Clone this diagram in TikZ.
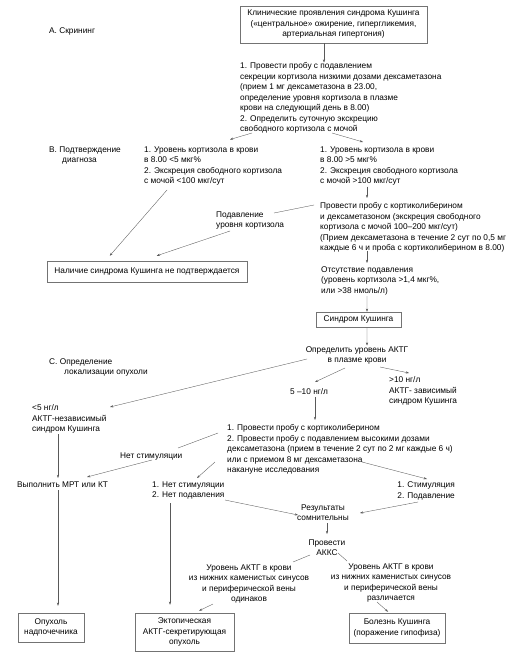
\documentclass[tikz,border=0pt]{standalone}
\usepackage{fontspec}
\setmainfont{Liberation Sans}
\usetikzlibrary{arrows.meta,calc}
\begin{document}
\begin{tikzpicture}[x=1bp,y=-1bp,
  fnt/.style={font=\fontsize{8.3bp}{10.5bp}\selectfont},
  txt/.style={fnt, inner sep=0pt, align=left, anchor=north west, text=black},
  ctxt/.style={fnt, inner sep=0pt, align=center, anchor=north, text=black},
  rtxt/.style={fnt, inner sep=0pt, align=right, anchor=north east, text=black},
  box/.style={fnt, draw=black!55, line width=0.5bp, inner sep=0pt, align=center, text=black},
  conn/.style={draw=black!65, line width=0.35bp},
  arr/.style={conn, -{Stealth[length=3.2bp,width=2.2bp]}}]
\fill[white] (0,0) rectangle (531,660);
\useasboundingbox (0,0) rectangle (531,660);

% section labels
\node[txt] (lblA) at (49,27.5) {A. Скрининг};
\node[txt] (lblB) at (49,146.5) {B. Подтверждение\\\hspace*{13bp}диагноза};
\node[txt] (lblC) at (49,358.5) {C. Определение\\\hspace*{15bp}локализации опухоли};

% nodes
\node[box, minimum width=187bp, minimum height=37bp] (top) at (333.5,24.5)
  {Клинические проявления синдрома Кушинга\\(«центральное» ожирение, гипергликемия,\\артериальная гипертония)};
\node[txt] (t1) at (240,62.5) {1. Провести пробу с подавлением\\секреции кортизола низкими дозами дексаметазона\\(прием 1 мг дексаметазона в 23.00,\\определение уровня кортизола в плазме\\крови на следующий день в 8.00)\\2. Определить суточную экскрецию\\свободного кортизола с мочой};
\node[txt] (bl) at (144,146.5) {1. Уровень кортизола в крови\\в 8.00 <5 мкг\%\\2. Экскреция свободного кортизола\\с мочой <100 мкг/сут};
\node[txt] (br) at (320,146.5) {1. Уровень кортизола в крови\\в 8.00 >5 мкг\%\\2. Экскреция свободного кортизола\\с мочой >100 мкг/сут};
\node[txt] (t2) at (320,202.5) {Провести пробу с кортиколиберином\\и дексаметазоном (экскреция свободного\\кортизола с мочой 100–200 мкг/сут)\\(Прием дексаметазона в течение 2 сут по 0,5 мг\\каждые 6 ч и проба с кортиколиберином в 8.00)};
\node[txt] (supp) at (216,211.5) {Подавление\\уровня кортизола};
\node[box, minimum width=200bp, minimum height=21bp] (nobox) at (147,271.5) {Наличие синдрома Кушинга не подтверждается};
\node[txt] (t3) at (321,266.5) {Отсутствие подавления\\(уровень кортизола >1,4 мкг\%,\\или >38 нмоль/л)};
\node[box, minimum width=85bp, minimum height=15bp] (cush) at (358.5,319.5) {Синдром Кушинга};
\node[ctxt] (t4) at (357,346.5) {Определить уровень АКТГ\\в плазме крови};
\node[txt] (r510) at (290,388.5) {5 –10 нг/л};
\node[txt] (rgt10) at (389,376.5) {>10 нг/л\\АКТГ- зависимый\\синдром Кушинга};
\node[txt] (lt5) at (32,404.5) {<5 нг/л\\АКТГ-независимый\\синдром Кушинга};
\node[txt] (t5) at (227,424.5) {1. Провести пробу с кортиколиберином\\2. Провести пробу с подавлением высокими дозами\\дексаметазона (прием в течение 2 сут по 2 мг каждые 6 ч)\\или с приемом 8 мг дексаметазона\\накануне исследования};
\node[txt] (nostim) at (120,452.5) {Нет стимуляции};
\node[txt] (mrt) at (17,481.5) {Выполнить МРТ или КТ};
\node[txt] (nn) at (152,481.5) {1. Нет стимуляции\\2. Нет подавления};
\node[rtxt] (sp) at (455,481.5) {1. Стимуляция\\2. Подавление};
\node[ctxt] (doubt) at (323,504.5) {Результаты\\сомнительны};
\node[ctxt] (akks) at (327,539.5) {Провести\\АККС};
\node[ctxt] (ll) at (249,564.5) {Уровень АКТГ в крови\\из нижних каменистых синусов\\и периферической вены\\одинаков};
\node[ctxt] (rl) at (391,563.5) {Уровень АКТГ в крови\\из нижних каменистых синусов\\и периферической вены\\различается};
\node[box, minimum width=66bp, minimum height=29bp] (b1) at (51,627.5) {Опухоль\\надпочечника};
\node[box, minimum width=99bp, minimum height=38bp] (b2) at (184.5,632) {Эктопическая\\АКТГ-секретирующая\\опухоль};
\node[box, minimum width=96bp, minimum height=30bp] (b3) at (397,628) {Болезнь Кушинга\\(поражение гипофиза)};

% connectors
\draw[arr] ($(top.south)+(-9.5,0)$) -- ($(t1.north west)+(84,0)$);
\draw[arr] ($(t1.north west)+(12,70.5)$) -- ($(bl.north west)+(86,-7)$);
\draw[arr] ($(t1.north west)+(92,70.5)$) -- ($(br.north west)+(43,-4.5)$);
\draw[arr] ($(br.north west)+(47,40)$) -- ($(t2.north west)+(47,-4.5)$);
\draw[arr] ($(bl.north west)+(23,43.5)$) -- ($(nobox.north west)+(63,-5)$);
\draw[conn] ($(t2.north west)+(-6,2.5)$) -- ($(supp.north west)+(58,1.5)$);
\draw[arr] ($(supp.north west)+(14,19.5)$) -- ($(nobox.north west)+(110,-5)$);
\draw[arr] ($(t2.north west)+(47,48.5)$) -- ($(t3.north west)+(46,-3.5)$);
\draw[arr] ($(t3.north west)+(46,29.5)$) -- ($(cush.north)+(8.5,0)$);
\draw[arr] ($(cush.south)+(8.5,0)$) -- ($(t4.north)+(10,-1)$);
\draw[arr] ($(t4.north)+(-50,12.5)$) -- ($(lt5.north west)+(78,2.5)$);
\draw[arr] ($(t4.north)+(-12,21.5)$) -- ($(r510.north west)+(25,-6.5)$);
\draw[arr] ($(t4.north)+(23,20.5)$) -- ($(rgt10.north west)+(20,-3.5)$);
\draw[arr] ($(r510.north west)+(25,8.5)$) -- ($(t5.north west)+(88,-4.5)$);
\draw[arr] ($(lt5.north west)+(26,29.5)$) -- ($(mrt.north west)+(41,-3.5)$);
\draw[conn] ($(t5.north west)+(-9,8.5)$) -- ($(nostim.north west)+(58,-4.5)$);
\draw[arr] ($(nostim.north west)+(32,7.5)$) -- ($(mrt.north west)+(70,-4.5)$);
\draw[arr] ($(t5.north west)+(-12,37.5)$) -- ($(nn.north west)+(45,-3.5)$);
\draw[arr] ($(t5.north west)+(135,37.5)$) -- ($(sp.north east)+(-28,-2.5)$);
\draw[arr] ($(nn.north west)+(73,18.5)$) -- ($(doubt.north)+(-25,10.5)$);
\draw[arr] ($(sp.north east)+(-37,20.5)$) -- ($(doubt.north)+(37,8.5)$);
\draw[arr] ($(nn.north west)+(18,21.5)$) -- ($(b2.north)+(-14.5,-8)$);
\draw[arr] ($(mrt.north west)+(41,8.5)$) -- ($(b1.north)+(7,-7)$);
\draw[arr] ($(doubt.north)+(4,18.5)$) -- ($(akks.north)+(0,-5.5)$);
\draw[conn] ($(akks.north)+(-17,15.5)$) -- ($(ll.north)+(44,-2.5)$);
\draw[conn] ($(akks.north)+(11,13.5)$) -- ($(rl.north)+(-44,-2.5)$);
\draw[arr] ($(ll.north)+(-36,39.5)$) -- ($(b2.north)+(14.5,-2)$);
\draw[arr] ($(rl.north)+(-14,38.5)$) -- ($(b3.north)+(-9,-1)$);
\end{tikzpicture}
\end{document}
